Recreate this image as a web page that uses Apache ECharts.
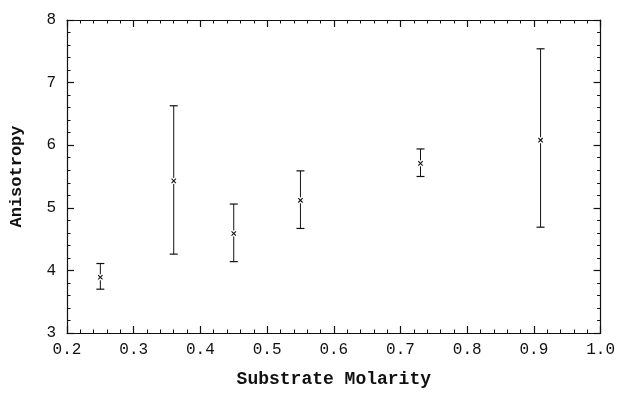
<!DOCTYPE html>
<html><head><meta charset="utf-8">
<script src="https://cdn.jsdelivr.net/npm/echarts@6/dist/echarts.min.js"></script>
<style>html,body{margin:0;padding:0;background:#fff}#c{width:618px;height:394px}</style>
</head><body><div id="c"></div>
<script>
const molarity = [0.25, 0.36, 0.45, 0.55, 0.73, 0.91];
const anisotropy = [3.89, 5.43, 4.59, 5.12, 5.71, 6.08];
const errLow = [3.70, 4.26, 4.14, 4.67, 5.50, 4.69];
const errHigh = [4.11, 6.63, 5.06, 5.59, 5.94, 7.54];
const xTicks = [0.2, 0.3, 0.4, 0.5, 0.6, 0.7, 0.8, 0.9, 1.0];
const yTicks = [3, 4, 5, 6, 7, 8];

const FONT = '"Liberation Mono", "DejaVu Sans Mono", monospace';
const data = molarity.map((x, i) => [x, anisotropy[i], errLow[i], errHigh[i]]);

const axisCommon = {
  axisLine: {show: true, lineStyle: {color: '#111', width: 1.2}},
  axisTick: {show: true, inside: true, length: 7, lineStyle: {color: '#111', width: 1.2}},
  minorTick: {show: true, splitNumber: 5, length: 3.5, lineStyle: {color: '#111', width: 1}},
  splitLine: {show: false}
};

const chart = echarts.init(document.getElementById('c'), null, {renderer: 'canvas'});
chart.setOption({
  animation: false,
  backgroundColor: '#fff',
  grid: {left: 67, right: 14, top: 20, bottom: 61},
  xAxis: [
    Object.assign({type: 'value', min: xTicks[0], max: xTicks[xTicks.length-1], interval: 0.1, position: 'bottom',
      name: 'Substrate Molarity', nameLocation: 'middle', nameGap: 37,
      nameTextStyle: {fontFamily: FONT, fontSize: 18, fontWeight: 'bold', color: '#111'},
      axisLabel: {fontFamily: FONT, fontSize: 16, color: '#111', margin: 9, formatter: v => v.toFixed(1)}}, axisCommon),
    Object.assign({type: 'value', min: xTicks[0], max: xTicks[xTicks.length-1], interval: 0.1, position: 'top',
      axisLabel: {show: false}}, axisCommon)
  ],
  yAxis: [
    Object.assign({type: 'value', min: yTicks[0], max: yTicks[yTicks.length-1], interval: 1, position: 'left',
      name: 'Anisotropy', nameLocation: 'middle', nameGap: 42, nameRotate: 90,
      nameTextStyle: {fontFamily: FONT, fontSize: 17, fontWeight: 'bold', color: '#111'},
      axisLabel: {fontFamily: FONT, fontSize: 16, color: '#111', margin: 11}}, axisCommon),
    Object.assign({type: 'value', min: yTicks[0], max: yTicks[yTicks.length-1], interval: 1, position: 'right',
      axisLabel: {show: false}}, axisCommon)
  ],
  series: [{
    type: 'custom',
    data: data,
    renderItem: function (params, api) {
      const x = api.value(0);
      const c = api.coord([x, api.value(1)]);
      const lo = api.coord([x, api.value(2)]);
      const hi = api.coord([x, api.value(3)]);
      const cap = 4, m = 2.2, gap = 3;
      const st = {stroke: '#111', lineWidth: 1};
      return {type: 'group', children: [
        {type: 'line', shape: {x1: hi[0], y1: hi[1], x2: c[0], y2: c[1] - gap}, style: st},
        {type: 'line', shape: {x1: c[0], y1: c[1] + gap, x2: lo[0], y2: lo[1]}, style: st},
        {type: 'line', shape: {x1: hi[0] - cap, y1: hi[1], x2: hi[0] + cap, y2: hi[1]}, style: {stroke: '#111', lineWidth: 1.2}},
        {type: 'line', shape: {x1: lo[0] - cap, y1: lo[1], x2: lo[0] + cap, y2: lo[1]}, style: {stroke: '#111', lineWidth: 1.2}},
        {type: 'line', shape: {x1: c[0] - m, y1: c[1] - m, x2: c[0] + m, y2: c[1] + m}, style: {stroke: '#111', lineWidth: 1.1}},
        {type: 'line', shape: {x1: c[0] - m, y1: c[1] + m, x2: c[0] + m, y2: c[1] - m}, style: {stroke: '#111', lineWidth: 1.1}}
      ]};
    }
  }]
});
</script></body></html>
